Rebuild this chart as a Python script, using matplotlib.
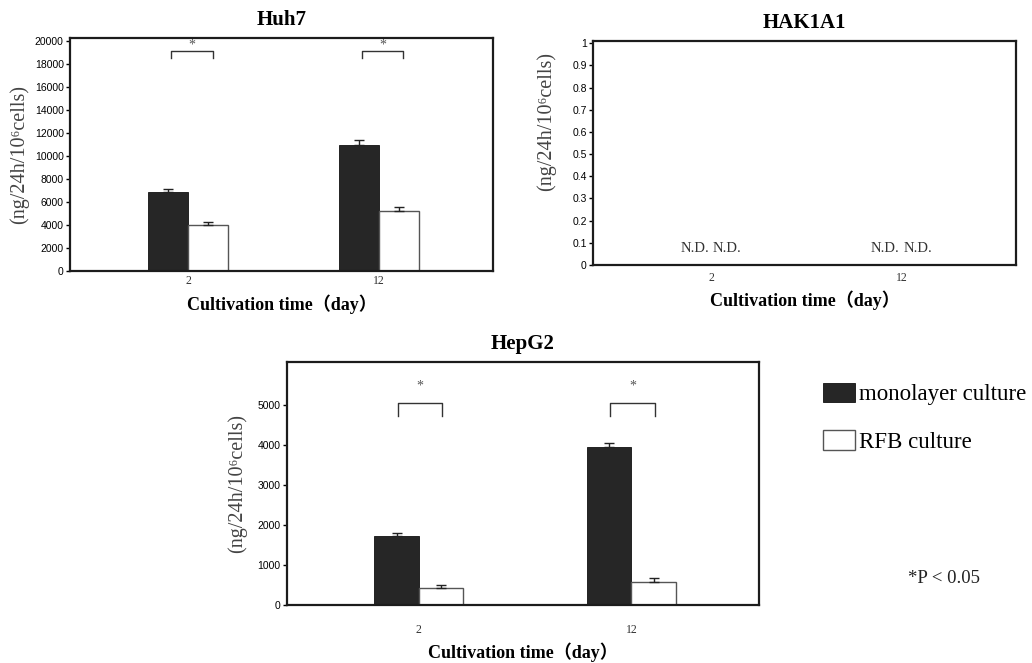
import numpy as np
import matplotlib
matplotlib.use("Agg")
from matplotlib import pyplot as plt
from matplotlib.patches import Patch

plt.rcParams["font.family"] = ["Liberation Serif", "Noto Sans CJK JP", "DejaVu Serif"]

# 数据
days = ["2", "12"]
huh7_mono = [6850, 11000]
huh7_mono_err = [300, 450]
huh7_rfb = [4000, 5250]
huh7_rfb_err = [300, 300]

hak_labels = ["N.D.", "N.D."]   # 检测不到

hepg2_mono = [1720, 3950]
hepg2_mono_err = [90, 110]
hepg2_rfb = [420, 585]
hepg2_rfb_err = [85, 90]

series_names = ["monolayer culture", "RFB culture"]
ylabel = "(ng/24h/10\u2076cells)"
xlabel = "Cultivation time\uff08day\uff09"

dark = "#262626"
edge_gray = "#555555"
spine_c = "#1c1c1c"
w = 0.21


def style_axes(ax, title, ylim, yticks, yfmt, tick_pad, ylab_x, ylab_y=0.5, xlab_pad=4):
    ax.set_xlim(-0.62, 1.6)
    ax.set_ylim(*ylim)
    ax.set_yticks(yticks)
    ax.set_yticklabels([yfmt(v) for v in yticks], family="Liberation Sans",
                       fontsize=7.5, color="black")
    ax.set_xticks(range(len(days)))
    ax.set_xticklabels(days, fontsize=8.5, color="#333333")
    ax.tick_params(axis="x", length=0, pad=tick_pad)
    ax.tick_params(axis="y", length=3, width=1, pad=1.5, direction="out")
    for s in ax.spines.values():
        s.set_linewidth(1.6)
        s.set_color(spine_c)
    ax.set_title(title, fontsize=15, fontweight="bold", pad=9)
    ax.set_xlabel(xlabel, fontsize=13, fontweight="bold", labelpad=xlab_pad)
    ax.set_ylabel(ylabel, fontsize=14.5, color="#444444")
    ax.yaxis.set_label_coords(ylab_x, ylab_y)


def draw_bars(ax, mono, mono_err, rfb, rfb_err):
    x = np.arange(len(mono))
    ax.bar(x - w / 2, mono, w, color=dark, edgecolor="#111111", linewidth=0.6,
           yerr=[np.zeros(len(mono)), mono_err], error_kw=dict(ecolor="#222222", elinewidth=1, capsize=3.5, capthick=1))
    ax.bar(x + w / 2, rfb, w, color="white", edgecolor=edge_gray, linewidth=1,
           yerr=[np.zeros(len(rfb)), rfb_err], error_kw=dict(ecolor="#222222", elinewidth=1, capsize=3.5, capthick=1))


def sig_bracket(ax, xc, y_top, y_leg, y_star, lo=-0.1, hi=0.11):
    ax.plot([xc + lo, xc + lo, xc + hi, xc + hi], [y_leg, y_top, y_top, y_leg],
            color="#333333", linewidth=1)
    ax.text(xc + (lo + hi) / 2, y_star, "*", ha="center", va="center",
            fontsize=10, color="#555555")


fig = plt.figure(figsize=(10.32, 6.63), dpi=100)

# Huh7
ax1 = fig.add_axes([0.0678, 0.5913, 0.4099, 0.3514])
draw_bars(ax1, huh7_mono, huh7_mono_err, huh7_rfb, huh7_rfb_err)
style_axes(ax1, "Huh7", (0, 20300), np.arange(0, 20001, 2000), lambda v: "%d" % v,
           tick_pad=3, ylab_x=-0.097, xlab_pad=5)
for i in range(len(days)):
    sig_bracket(ax1, i, 19170, 18600, 19700, lo=-0.09, hi=0.13)

# HAK1A1
ax2 = fig.add_axes([0.5746, 0.6003, 0.4099, 0.3379])
style_axes(ax2, "HAK1A1", (0, 1.01), np.round(np.arange(0, 1.01, 0.1), 1),
           lambda v: "%g" % v, tick_pad=5, ylab_x=-0.088, ylab_y=0.64, xlab_pad=5)
for i in range(len(days)):
    ax2.text(i - w / 2 + 0.02, 0.075, hak_labels[0], ha="center", va="center",
             fontsize=10.5, color="#333333")
    ax2.text(i + w / 2 - 0.02, 0.075, hak_labels[1], ha="center", va="center",
             fontsize=10.5, color="#333333")

# HepG2
ax3 = fig.add_axes([0.2781, 0.0875, 0.4574, 0.3665])
draw_bars(ax3, hepg2_mono, hepg2_mono_err, hepg2_rfb, hepg2_rfb_err)
style_axes(ax3, "HepG2", (0, 6075), np.arange(0, 5001, 1000), lambda v: "%d" % v,
           tick_pad=14, ylab_x=-0.085, xlab_pad=4)
for i in range(len(days)):
    sig_bracket(ax3, i, 5040, 4730, 5475)

# 图例
handles = [Patch(facecolor=dark, edgecolor="#111111", linewidth=0.6),
           Patch(facecolor="white", edgecolor=edge_gray, linewidth=1)]
fig.legend(handles, series_names, loc="upper left", bbox_to_anchor=(0.797, 0.423),
           frameon=False, fontsize=16.5, handlelength=1.4, handleheight=0.94,
           handletextpad=0.2, labelspacing=1.1, borderaxespad=0, borderpad=0)
fig.text(0.88, 0.128, "*P < 0.05", fontsize=13.5, color="#222222", va="center")

fig.savefig("out.png", dpi=100)
